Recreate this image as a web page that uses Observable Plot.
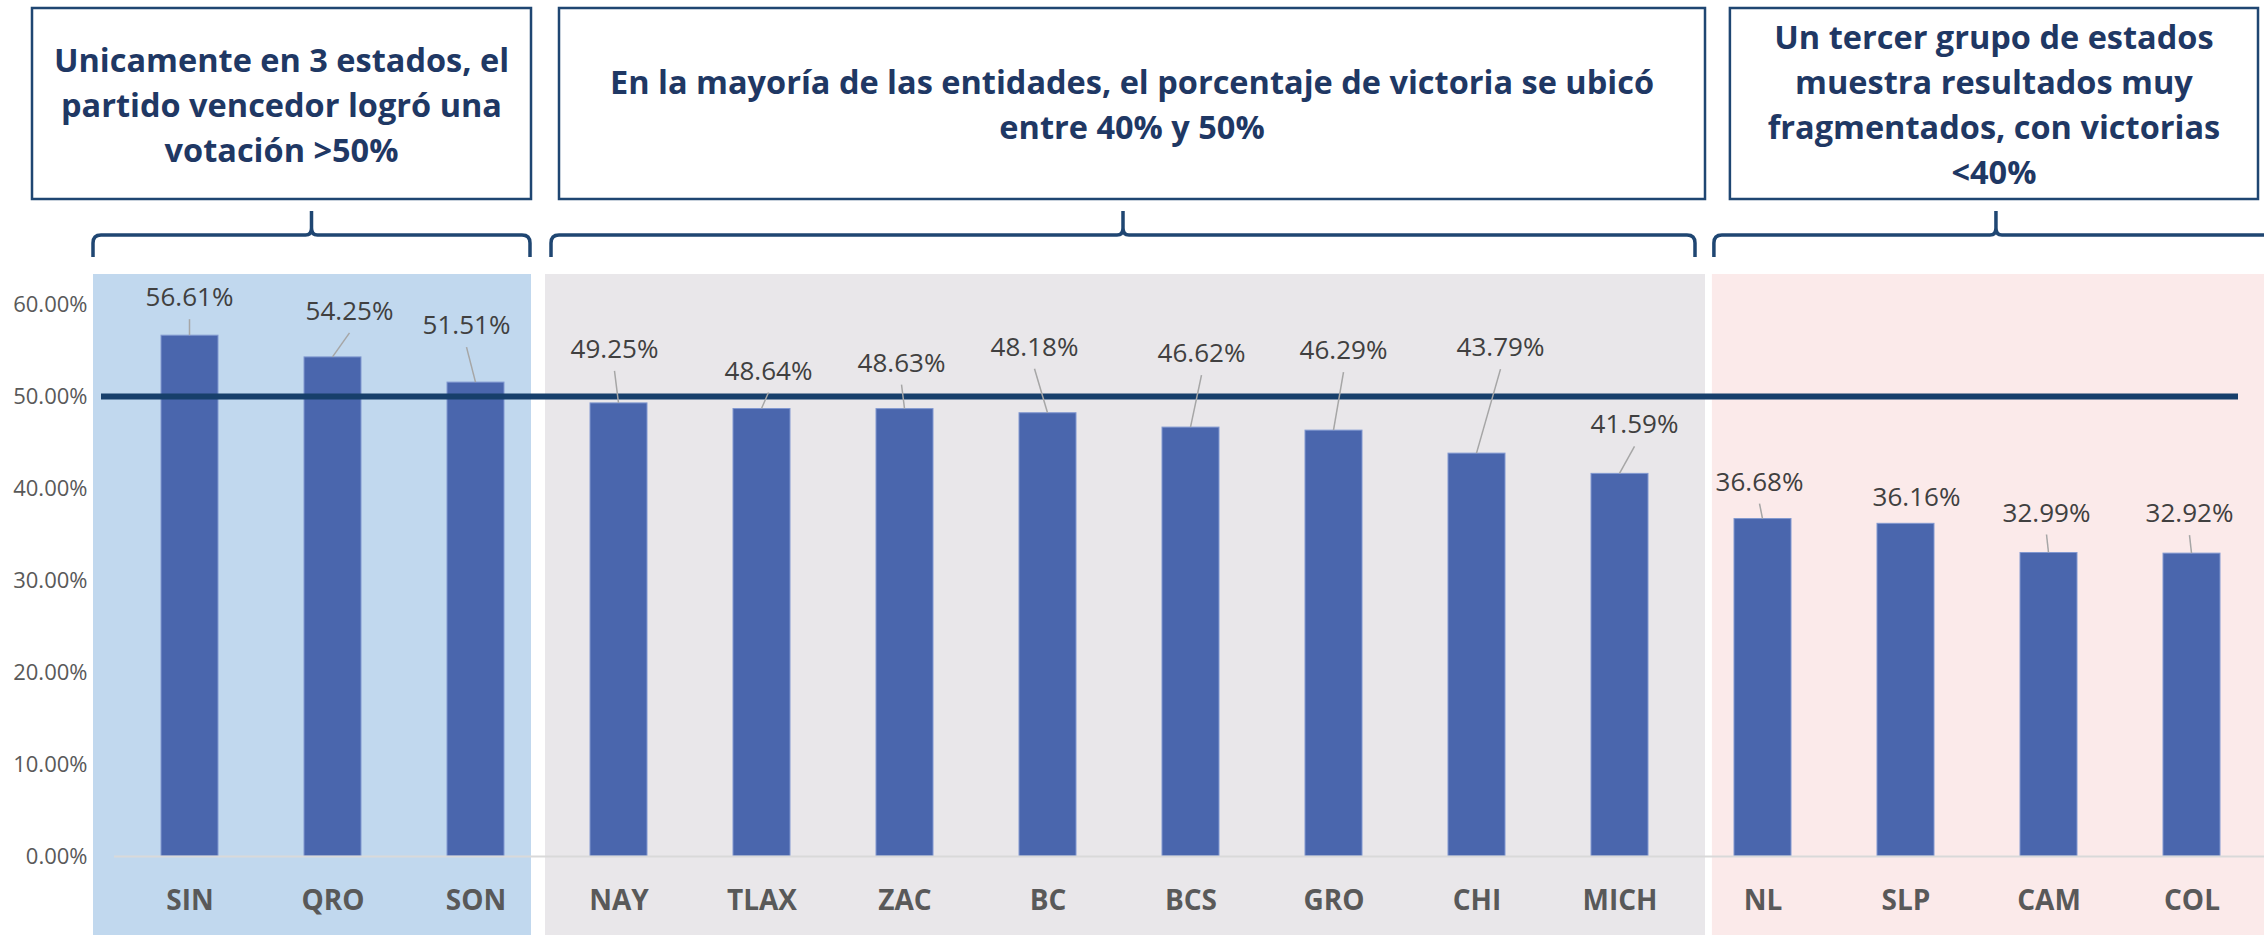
<!DOCTYPE html>
<html>
<head>
<meta charset="utf-8">
<script src="https://cdn.jsdelivr.net/npm/d3@7"></script>
<script src="https://cdn.jsdelivr.net/npm/@observablehq/plot@0.6"></script>
<style>
  html, body { margin: 0; padding: 0; background: #ffffff; }
  #chart { width: 2264px; height: 935px; overflow: hidden; }
  #chart svg { font-family: "Open Sans", "Noto Sans", sans-serif; }
  g[aria-label="x-axis tick label"] text { font-weight: bold; }
</style>
</head>
<body>
<div id="chart"></div>
<script>
// ---- data ----
const states = ["SIN","QRO","SON","NAY","TLAX","ZAC","BC","BCS","GRO","CHI","MICH","NL","SLP","CAM","COL"];
const values = [56.61,54.25,51.51,49.25,48.64,48.63,48.18,46.62,46.29,43.79,41.59,36.68,36.16,32.99,32.92];
const yTicks = [0,10,20,30,40,50,60];
const threshold = 50;

// label placement (px offsets of label centre from bar top-centre)
const labelDx = [0,17,-9,-4,7,-3,-13,11,10,24,15,-3,11,-2,-2];
const labelDy = [-38,-46,-57,-54,-38,-46,-66,-74,-80,-106,-49,-37,-26,-40,-40];

// groups
const groupFirst = ["SIN","NAY","NL"];
const groupLast  = ["SON","MICH","COL"];
const groupText = [
  ["Unicamente en 3 estados, el", "partido vencedor logró una", "votación >50%"],
  ["En la mayoría de las entidades, el porcentaje de victoria se ubicó", "entre 40% y 50%"],
  ["Un tercer grupo de estados", "muestra resultados muy", "fragmentados, con victorias", "<40%"]
];
const groupFill = ["#C1D8EE", "#E9E7EA", "#FBEAEA"];

// annotation layout (px offsets relative to first/last band centres)
const panelPad = [[-96.5, 55.5], [-73.5, 85.5], [-50.6, 80]];
const bracePad = [[-96.5, 54.5], [-67.5, 75.5], [-48.6, 86.5]];
const boxPad   = [[-157.5, 55.5], [-59.5, 85.5], [-32.6, 66.5]];
const boxTop = 8, boxBottom = 199, braceTip = 211, braceBar = 235, braceEnd = 257;
const navy = "#1F4672", textNavy = "#1F3864";

const data = states.map((s, i) => ({state: s, value: values[i], dx: labelDx[i], dy: labelDy[i]}));

function bandCenter(scales) {
  const x = scales.x;
  const bw = typeof x.bandwidth === "function" ? x.bandwidth() : (x.bandwidth || 0);
  return s => x(s) + bw / 2;
}

function decor(index, scales, vals, dims) {
  const xc = bandCenter(scales);
  const y = scales.y;
  const panelTop = y(60) - 30;
  const g = d3.create("svg:g");
  groupFirst.forEach((f, i) => {
    const l = groupLast[i];
    const c1 = xc(f), c2 = xc(l);
    // background panel
    g.append("rect")
      .attr("x", c1 + panelPad[i][0]).attr("y", panelTop)
      .attr("width", (c2 + panelPad[i][1]) - (c1 + panelPad[i][0]))
      .attr("height", dims.height - panelTop)
      .attr("fill", groupFill[i]);
    // box
    const bx1 = c1 + boxPad[i][0], bx2 = c2 + boxPad[i][1];
    g.append("rect")
      .attr("x", bx1).attr("y", boxTop)
      .attr("width", bx2 - bx1).attr("height", boxBottom - boxTop)
      .attr("fill", "#ffffff").attr("stroke", navy).attr("stroke-width", 2.5);
    const lines = groupText[i];
    const mid = (boxTop + boxBottom) / 2 + 2;
    const t = g.append("text")
      .attr("text-anchor", "middle")
      .attr("font-weight", "bold")
      .attr("font-size", 32.5)
      .attr("fill", textNavy);
    lines.forEach((ln, j) => {
      t.append("tspan")
        .attr("x", (bx1 + bx2) / 2)
        .attr("y", mid + (j - (lines.length - 1) / 2) * 45)
        .attr("dy", "0.35em")
        .text(ln);
    });
    // brace
    const a = c1 + bracePad[i][0], b = c2 + bracePad[i][1], m = (a + b) / 2;
    const p = `M${a},${braceEnd} V${braceBar + 8} Q${a},${braceBar} ${a + 8},${braceBar} H${m - 6} Q${m},${braceBar} ${m},${braceBar - 7} V${braceTip}` +
              ` M${m},${braceBar - 7} Q${m},${braceBar} ${m + 6},${braceBar} H${b - 8} Q${b},${braceBar} ${b},${braceBar + 8} V${braceEnd}`;
    g.append("path").attr("d", p).attr("fill", "none")
      .attr("stroke", navy).attr("stroke-width", 3.5).attr("stroke-linejoin", "round");
  });
  return g.node();
}

function labels(index, scales) {
  const xc = bandCenter(scales);
  const y = scales.y;
  const g = d3.create("svg:g");
  data.forEach(d => {
    const bx = xc(d.state), by = y(d.value);
    const lx = bx + d.dx, ly = by + d.dy;
    if (by - (ly + 22) > 6) {
      g.append("line")
        .attr("x1", lx).attr("y1", ly + 22).attr("x2", bx).attr("y2", by)
        .attr("stroke", "#A6A6A6").attr("stroke-width", 1.5);
    }
    g.append("text")
      .attr("x", lx).attr("y", ly).attr("dy", "0.35em")
      .attr("text-anchor", "middle")
      .attr("font-size", 26)
      .attr("fill", "#404040")
      .text(d.value.toFixed(2) + "%");
  });
  return g.node();
}

const chart = Plot.plot({
  width: 2264,
  height: 935,
  marginLeft: 101,
  marginRight: 26,
  marginTop: 304,
  marginBottom: 79,
  style: {background: "transparent", fontFamily: "'Open Sans', 'Noto Sans', sans-serif", overflow: "hidden"},
  x: {domain: states, range: [113.7, 2268.3], paddingInner: 0.6, paddingOuter: 0.3, label: null},
  y: {domain: [0, 60], label: null},
  marks: [
    decor,
    Plot.barY(data, {x: "state", y: "value", fill: "#4A66AD", stroke: "#8198D0", strokeWidth: 1}),
    Plot.ruleY([0], {stroke: "#D9D9D9", strokeWidth: 2, insetLeft: 13, insetRight: -26}),
    Plot.ruleY([threshold], {stroke: "#173F6B", strokeWidth: 6}),
    labels,
    Plot.axisY(yTicks, {tickSize: 0, tickPadding: 14, fontSize: 22, color: "#595959", label: null,
      tickFormat: d => d.toFixed(2) + "%"}),
    Plot.axisX({tickSize: 0, tickPadding: 34, fontSize: 28, fontWeight: "bold", color: "#595959", label: null})
  ]
});
document.getElementById("chart").appendChild(chart);
</script>
</body>
</html>
